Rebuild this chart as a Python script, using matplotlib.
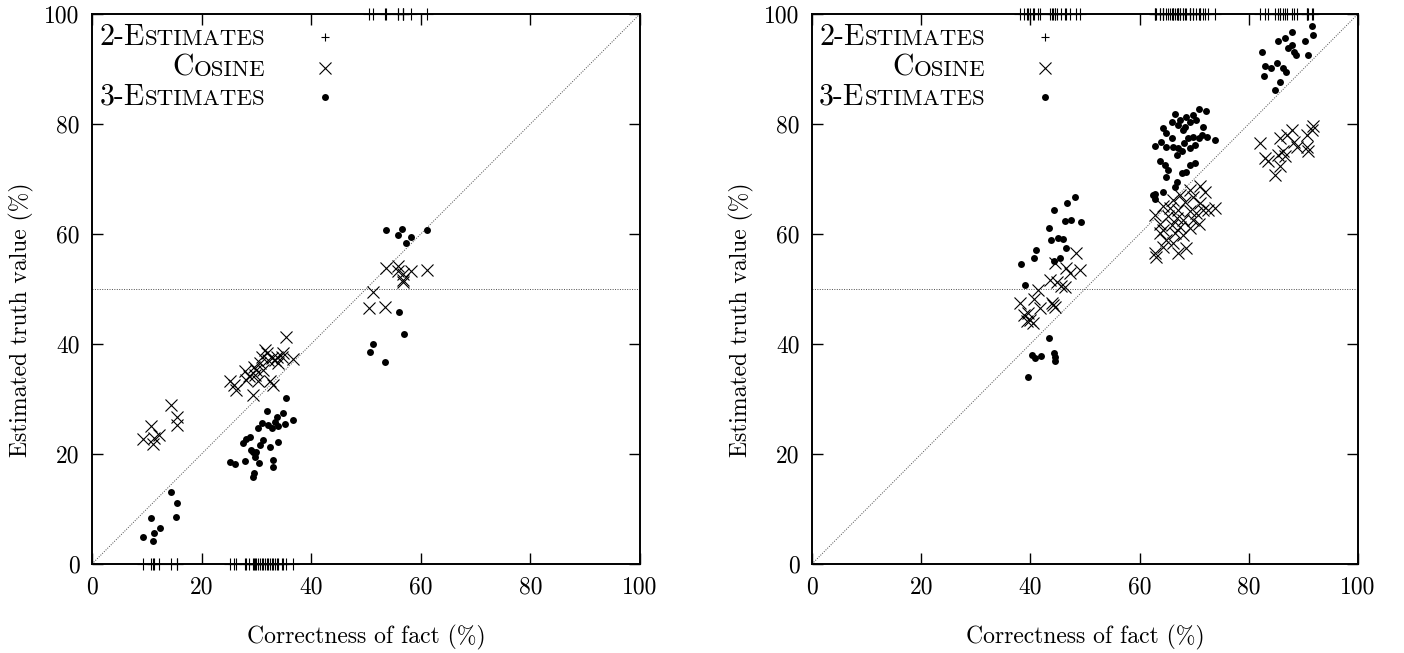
import matplotlib
matplotlib.use("Agg")
import matplotlib.pyplot as plt
from matplotlib.offsetbox import TextArea, HPacker, AnchoredOffsetbox

# ---- left panel data (correctness %, estimated truth %) ----
cos_left_x = [9.4, 10.7, 11.2, 11.3, 12.3, 14.5, 15.5, 15.5,
              25.2, 25.9, 26.2, 27.9, 28.2, 28.7, 29.4, 29.6, 29.7, 30.0,
              30.3, 30.7, 31.0, 31.3, 31.6, 31.9, 32.2, 32.5, 32.8, 33.1,
              33.4, 33.7, 34.0, 34.6, 34.9, 35.5, 36.7,
              53.6, 55.9, 55.9, 56.8, 58.3, 56.7, 56.8, 61.2, 51.3, 50.6, 53.5]
cos_left_y = [22.7, 25.0, 21.9, 22.9, 23.5, 28.9, 26.8, 25.2,
              33.3, 32.5, 31.6, 35.0, 33.5, 34.1, 30.7, 35.9, 34.4, 35.3,
              33.2, 36.5, 37.7, 35.3, 38.9, 38.3, 37.1, 33.2, 37.4, 32.5,
              37.1, 37.7, 36.5, 37.7, 38.3, 41.3, 37.2,
              53.8, 54.1, 53.2, 52.8, 53.2, 51.6, 51.2, 53.5, 49.5, 46.5, 46.7]

est3_left_x = [9.25, 10.7, 11.3, 11.2, 12.4, 14.5, 15.6, 15.4,
               35.5, 31.9, 33.7, 34.9, 36.7, 31.0, 30.3, 32.2, 32.8, 33.4,
               34.0, 35.2, 28.8, 28.2, 27.6, 31.3, 34.0, 30.7, 29.1, 29.4,
               29.7, 30.0, 32.4, 27.9, 25.2, 26.1, 30.5, 33.1, 33.1, 29.6,
               29.4, 29.7,
               53.6, 56.6, 55.8, 58.3, 57.3, 61.2, 56.0, 56.9, 51.3, 50.7, 53.4]
est3_left_y = [4.9, 8.4, 5.6, 4.2, 6.6, 13.0, 11.0, 8.6,
               30.2, 27.9, 26.8, 27.4, 26.1, 25.6, 24.7, 25.3, 24.7, 25.9,
               25.0, 25.5, 23.1, 22.8, 22.0, 22.5, 22.2, 21.6, 20.7, 20.4,
               20.1, 20.4, 21.2, 18.8, 18.6, 18.2, 18.4, 18.9, 17.7, 16.6,
               15.9, 19.5,
               60.7, 60.9, 59.8, 59.5, 58.3, 60.7, 45.8, 41.8, 40.0, 38.5, 36.7]

est2_left_x = cos_left_x
est2_left_y = [0, 0, 0, 0, 0, 0, 0, 0,
               0, 0, 0, 0, 0, 0, 0, 0, 0, 0,
               0, 0, 0, 0, 0, 0, 0, 0, 0, 0,
               0, 0, 0, 0, 0, 0, 0,
               100, 100, 100, 100, 100, 100, 100, 100, 100, 100, 100]

# ---- right panel data ----
cos_right_x = [48.3, 46.6, 47.3, 49.1, 44.5, 43.6, 44.8, 45.7, 46.3, 41.4,
               38.1, 40.7, 41.8, 43.9, 44.2, 44.5, 38.8, 39.6, 39.9, 40.5, 39.4,
               71.1, 72.0, 69.2, 67.4, 69.8, 66.2, 68.3, 71.1, 73.8, 72.6,
               64.3, 65.6, 67.1, 69.2, 70.4, 71.6, 62.8, 65.3, 66.8, 67.9,
               69.8, 70.8, 63.7, 65.9, 67.4, 69.2, 64.3, 63.7, 66.5, 67.9,
               64.9, 66.2, 64.3, 68.6, 67.1, 62.8, 63.1,
               91.8, 91.5, 90.6, 87.9, 87.0, 85.7, 88.2, 88.8, 90.6, 82.1,
               90.9, 86.3, 85.4, 86.6, 83.0, 83.6, 85.7, 84.8]
cos_right_y = [56.5, 53.8, 52.9, 53.5, 54.7, 51.6, 51.2, 50.5, 50.4, 49.9,
               47.4, 48.1, 46.5, 47.4, 47.1, 46.8, 45.3, 45.7, 44.4, 43.9, 44.1,
               68.8, 67.7, 68.0, 67.1, 66.8, 66.2, 65.9, 65.6, 64.7, 64.4,
               65.0, 64.7, 64.4, 64.1, 63.8, 64.4, 63.5, 63.2, 62.9, 62.5,
               62.5, 61.9, 61.9, 61.6, 61.3, 61.0, 60.7, 60.1, 60.1, 59.8,
               58.9, 58.3, 57.7, 57.4, 56.5, 56.5, 55.8,
               79.6, 78.9, 78.0, 78.9, 78.0, 77.4, 76.8, 75.9, 75.9, 76.6,
               75.0, 75.0, 74.4, 74.1, 73.8, 73.2, 72.3, 70.7]

est3_right_x = [48.2, 46.8, 44.3, 46.3, 47.4, 49.2, 43.4, 43.8, 45.1, 45.9,
                46.6, 41.1, 40.7, 45.4, 44.3, 38.3, 39.1, 43.5, 40.3, 40.9,
                41.9, 44.3, 44.5, 44.5, 39.6,
                70.8, 72.1, 66.5, 69.8, 68.6, 67.4, 69.2, 70.4, 65.9, 67.1,
                68.3, 71.7, 64.3, 68.0, 64.9, 71.4, 72.3, 69.8, 68.9, 70.8,
                65.9, 73.8, 64.0, 68.2, 62.8, 64.9, 66.2, 70.1, 67.1, 67.7,
                69.2, 66.8, 63.7, 64.7, 69.2, 70.1, 65.3, 67.7, 68.6, 64.9,
                66.8, 66.5, 62.8, 64.3, 62.5, 62.9,
                91.5, 87.9, 86.6, 85.4, 91.8, 90.3, 87.9, 87.2, 88.3, 88.6,
                82.4, 90.9, 83.0, 84.0, 85.1, 86.3, 86.8, 82.8, 85.7, 84.8]
est3_right_y = [66.8, 65.7, 64.4, 62.4, 62.5, 62.1, 61.0, 58.9, 59.2, 59.0,
                57.4, 57.0, 55.7, 55.6, 55.0, 54.5, 50.8, 41.1, 38.0, 37.5,
                37.8, 38.4, 37.7, 36.9, 34.0,
                82.7, 82.3, 81.9, 81.6, 81.3, 80.7, 80.4, 80.7, 80.4, 79.8,
                79.5, 79.5, 79.2, 78.9, 78.3, 78.0, 77.7, 77.6, 77.4, 77.4,
                77.4, 77.0, 76.8, 76.6, 76.0, 75.9, 75.8, 76.2, 75.6, 75.0,
                75.6, 74.4, 73.2, 72.6, 72.6, 72.9, 71.6, 71.0, 71.3, 70.4,
                69.5, 68.6, 67.3, 67.7, 67.1, 66.3,
                97.8, 96.8, 95.6, 95.1, 96.1, 95.0, 94.4, 93.9, 93.1, 92.6,
                93.0, 92.5, 90.5, 90.1, 91.0, 90.1, 89.5, 88.8, 87.6, 86.2]

est2_right_x = cos_right_x
est2_right_y = [100, 100, 100, 100, 100, 100, 100, 100, 100, 100,
                100, 100, 100, 100, 100, 100, 100, 100, 100, 100, 100,
                100, 100, 100, 100, 100, 100, 100, 100, 100, 100,
                100, 100, 100, 100, 100, 100, 100, 100, 100, 100,
                100, 100, 100, 100, 100, 100, 100, 100, 100, 100,
                100, 100, 100, 100, 100, 100, 100,
                100, 100, 100, 100, 100, 100, 100, 100, 100, 100,
                100, 100, 100, 100, 100, 100, 100, 100]

ticks = [0, 20, 40, 60, 80, 100]
# legend labels as (capital part, small-caps part)
legend_rows = [("2-E", "STIMATES", "+"), ("C", "OSINE", "x"), ("3-E", "STIMATES", "o")]

plt.rcParams["font.family"] = ["cmr10", "DejaVu Serif"]
plt.rcParams["mathtext.fontset"] = "cm"
plt.rcParams["axes.unicode_minus"] = False

BIG = 17
LEG_BIG = 21.5
LEG_SMALL = 16.5

marker_style = {
    "+": dict(marker="+", markersize=8, markeredgewidth=0.8),
    "x": dict(marker="x", markersize=8, markeredgewidth=0.8),
    "o": dict(marker="o", markersize=5, markeredgewidth=0),
}


def draw_panel(ax, e2x, e2y, cx, cy, e3x, e3y):
    ax.set_xlim(0, 100)
    ax.set_ylim(0, 100)
    ax.set_xticks(ticks)
    ax.set_yticks(ticks)
    ax.tick_params(direction="in", length=8, width=1.0, top=True, right=True,
                   labelsize=BIG, pad=9)
    for sp in ax.spines.values():
        sp.set_linewidth(1.4)

    # reference lines
    ax.axline((0, 0), slope=1, ls=(0, (1, 1.5)), lw=0.7, color="0.3", zorder=1)
    ax.axhline(50, ls=(0, (1, 1.5)), lw=0.7, color="0.3", zorder=1)

    ax.plot(e2x, e2y, ls="none", color="black", clip_on=False, **marker_style["+"])
    ax.plot(cx, cy, ls="none", color="black", **marker_style["x"])
    ax.plot(e3x, e3y, ls="none", color="black", **marker_style["o"])

    ax.set_xlabel("Correctness of fact (%)", fontsize=BIG, labelpad=19)
    ax.set_ylabel("Estimated truth value (%)", fontsize=BIG)
    ax.yaxis.set_label_coords(-0.106, 0.444)

    # hand-built legend with small caps labels
    row_y = [0.958, 0.902, 0.849]
    for (cap, rest, m), y in zip(legend_rows, row_y):
        box = HPacker(children=[TextArea(cap, textprops=dict(size=LEG_BIG)),
                                TextArea(rest, textprops=dict(size=LEG_SMALL))],
                      align="baseline", pad=0, sep=0)
        anchored = AnchoredOffsetbox(loc="center right", child=box, pad=0,
                                     borderpad=0, frameon=False,
                                     bbox_to_anchor=(0.317, y),
                                     bbox_transform=ax.transAxes)
        ax.add_artist(anchored)
        st = dict(marker_style[m])
        if m == "+":
            st["markersize"] = 6
        ax.plot([0.426], [y], ls="none", color="black", transform=ax.transAxes,
                clip_on=False, **st)


fig = plt.figure(figsize=(14.04, 6.53), dpi=100)
ax_l = fig.add_axes([0.0655, 0.1363, 0.3903, 0.8423])
ax_r = fig.add_axes([0.5783, 0.1363, 0.3889, 0.8423])

draw_panel(ax_l, est2_left_x, est2_left_y, cos_left_x, cos_left_y, est3_left_x, est3_left_y)
draw_panel(ax_r, est2_right_x, est2_right_y, cos_right_x, cos_right_y, est3_right_x, est3_right_y)

fig.savefig("out.png", dpi=100)
